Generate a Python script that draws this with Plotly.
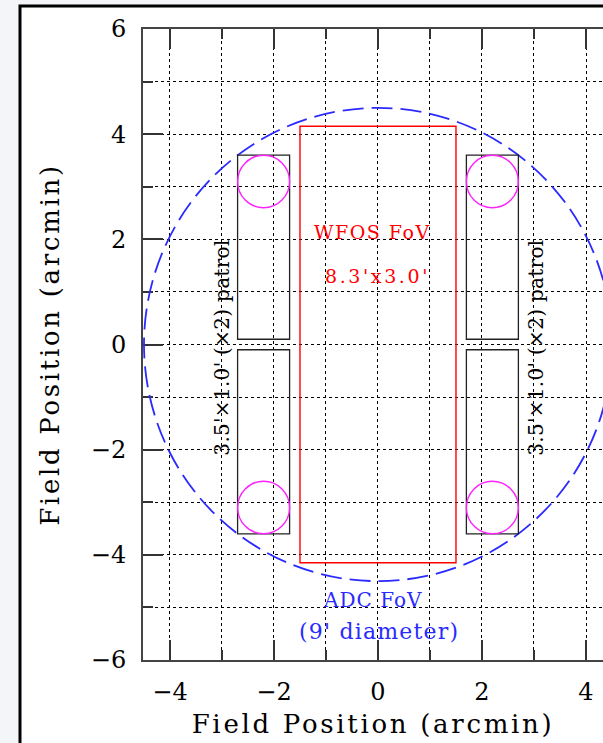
import plotly.graph_objects as go

# ---- data (arcmin) ----
adc_center = [0.0, 0.0]
adc_diameter = 9.0
wfos_width = 3.0
wfos_height = 8.3
patrol_x0 = [-2.7, -2.7, 1.7, 1.7]
patrol_x1 = [-1.7, -1.7, 2.7, 2.7]
patrol_y0 = [0.1, -3.6, 0.1, -3.6]
patrol_y1 = [3.6, -0.1, 3.6, -0.1]
probe_x = [-2.2, -2.2, 2.2, 2.2]
probe_y = [3.1, -3.1, 3.1, -3.1]
probe_radius = 0.5
x_ticks = [-4, -2, 0, 2, 4]
y_ticks = [-6, -4, -2, 0, 2, 4, 6]

W, H = 603, 743
ML, MR, MT, MB = 143, 0, 29, 83
PW, PH = W - ML - MR, H - MT - MB

SERIF = "DejaVu Serif"


def spaced(t, px):
    return f'<span style="letter-spacing:{px}px">{t}</span>'


fig = go.Figure()
fig.add_trace(go.Scatter(x=[None], y=[None], showlegend=False, hoverinfo="skip"))

shapes = []
# outer white frame (slide box)
shapes.append(dict(type="rect", xref="paper", yref="paper",
                   x0=(20 - ML) / PW, x1=1.2, y0=-0.3, y1=(H - MB - 6) / PH,
                   fillcolor="white", line=dict(color="black", width=3), layer="below"))
# ADC FoV circle
r = adc_diameter / 2
shapes.append(dict(type="circle", xref="x", yref="y",
                   x0=adc_center[0] - r, x1=adc_center[0] + r,
                   y0=adc_center[1] - r, y1=adc_center[1] + r,
                   line=dict(color="#2a2aff", width=1.8, dash="21px,8px")))
# WFOS FoV rectangle
shapes.append(dict(type="rect", xref="x", yref="y",
                   x0=-wfos_width / 2, x1=wfos_width / 2,
                   y0=-wfos_height / 2, y1=wfos_height / 2,
                   line=dict(color="red", width=1.4)))
# patrol rectangles
for a, b, c, d in zip(patrol_x0, patrol_x1, patrol_y0, patrol_y1):
    shapes.append(dict(type="rect", xref="x", yref="y", x0=a, x1=b, y0=c, y1=d,
                       line=dict(color="#222222", width=1.3)))
# probe circles
for px, py in zip(probe_x, probe_y):
    shapes.append(dict(type="circle", xref="x", yref="y",
                       x0=px - probe_radius, x1=px + probe_radius,
                       y0=py - probe_radius, y1=py + probe_radius,
                       line=dict(color="#ff22ff", width=1.4)))

annotations = [
    dict(x=-0.1, y=2.14, text=spaced("WFOS FoV", 1.5), font=dict(color="red", size=19, family=SERIF)),
    dict(x=0.0, y=1.3, text=spaced("8.3'x3.0'", 2.6), font=dict(color="red", size=19, family=SERIF)),
    dict(x=-0.1, y=-4.86, text=spaced("ADC FoV", 1.0), font=dict(color="#2a2aff", size=20, family=SERIF)),
    dict(x=0.02, y=-5.46, text=spaced("(9' diameter)", 1.2), font=dict(color="#2a2aff", size=22, family=SERIF)),
    dict(x=-3.0, y=-0.06, text=spaced("3.5'×1.0' (×2) patrol", 0.3), textangle=-90,
         font=dict(color="black", size=20, family=SERIF)),
    dict(x=3.04, y=-0.06, text=spaced("3.5'×1.0' (×2) patrol", 0.3), textangle=-90,
         font=dict(color="black", size=20, family=SERIF)),
]
for a in annotations:
    a.update(xref="x", yref="y", showarrow=False)

grid = dict(showgrid=True, gridcolor="black", gridwidth=1, griddash="3px,3px")
common = dict(
    ticks="inside", ticklen=20, tickwidth=1.5, tickcolor="#333",
    showline=True, linecolor="#444", linewidth=2,
    tickfont=dict(family=SERIF, size=24, color="black"),
    zeroline=False,
    minor=dict(dtick=1, ticks="inside", ticklen=10, tickwidth=1.5, tickcolor="#333",
               showgrid=True, gridcolor="black", gridwidth=1, griddash="3px,3px"),
    **grid,
)

TITLE = spaced("Field Position (arcmin)", 2.7)

fig.update_layout(
    width=W, height=H,
    margin=dict(l=ML, r=MR, t=MT, b=MB),
    paper_bgcolor="#f3f5f9", plot_bgcolor="white",
    shapes=shapes, annotations=annotations,
    showlegend=False,
    xaxis=dict(range=[-4.519, 4.327], tickvals=x_ticks, mirror="ticks",
               ticklabelstandoff=9,
               title=dict(text=TITLE, standoff=10,
                          font=dict(family=SERIF, size=26, color="black")),
               **common),
    yaxis=dict(range=[-6, 6], tickvals=y_ticks, mirror=False,
               ticklabelstandoff=10,
               title=dict(text=TITLE, standoff=24,
                          font=dict(family=SERIF, size=26, color="black")),
               **common),
)

fig.write_html("out.html")
